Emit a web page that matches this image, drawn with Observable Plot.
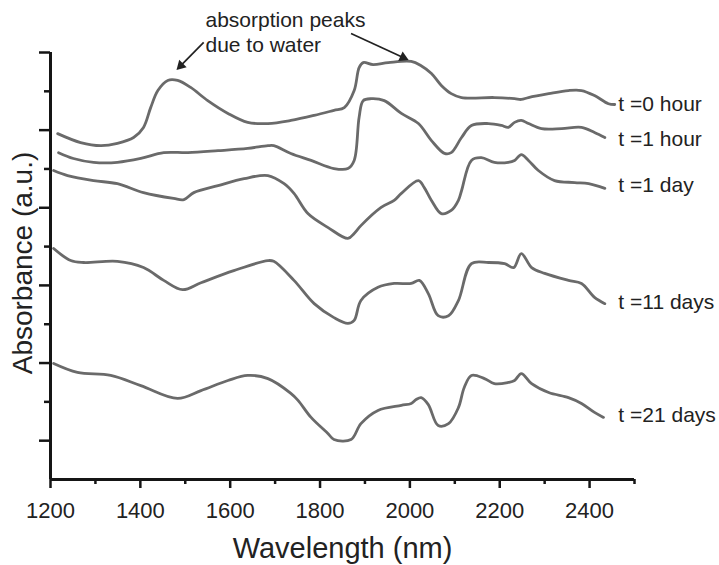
<!DOCTYPE html>
<html>
<head>
<meta charset="utf-8">
<script src="https://cdn.jsdelivr.net/npm/d3@7"></script>
<script src="https://cdn.jsdelivr.net/npm/@observablehq/plot@0.6"></script>
<style>
  html, body { margin: 0; padding: 0; background: #fff; }
  #chart svg { display: block; }
</style>
</head>
<body>
<div id="chart"></div>
<script>
// ---- data ----
const seriesNames = ["t =0 hour", "t =1 hour", "t =1 day", "t =11 days", "t =21 days"];

const wl0 = [1216,1267,1312,1349,1385,1407,1423,1439,1461,1483,1512,1550,1595,1639,1684,1735,1787,1831,1854,1876,1887,1896,1918,1952,2003,2025,2048,2070,2092,2115,2188,2233,2248,2264,2309,2353,2382,2411,2442,2456];
const ab0 = [8.91,8.68,8.60,8.66,8.81,9.07,9.58,10.02,10.28,10.28,10.10,9.76,9.43,9.20,9.17,9.25,9.38,9.51,9.58,10.02,10.61,10.74,10.69,10.74,10.77,10.66,10.46,10.15,9.94,9.84,9.84,9.81,9.79,9.84,9.94,10.02,10.02,9.89,9.68,9.66];

const wl1 = [1218,1251,1296,1349,1401,1452,1506,1573,1639,1684,1697,1735,1780,1831,1862,1876,1887,1896,1914,1943,1981,2019,2048,2077,2092,2115,2137,2175,2204,2219,2233,2248,2264,2293,2338,2382,2411,2434];
const ab1 = [8.42,8.27,8.17,8.17,8.27,8.42,8.42,8.47,8.53,8.60,8.60,8.40,8.22,8.01,8.01,8.22,9.33,9.76,9.81,9.76,9.43,9.17,8.73,8.40,8.42,8.81,9.12,9.17,9.12,9.07,9.20,9.25,9.17,9.04,9.04,9.07,8.94,8.81];

const wl2 = [1207,1238,1296,1349,1407,1474,1497,1519,1573,1631,1684,1720,1742,1773,1818,1862,1876,1891,1936,1965,1981,2019,2032,2048,2070,2092,2108,2115,2137,2159,2188,2219,2233,2248,2264,2286,2322,2367,2398,2434];
const ab2 = [7.96,7.83,7.70,7.62,7.39,7.24,7.21,7.39,7.57,7.75,7.83,7.62,7.37,6.85,6.49,6.21,6.34,6.54,7.01,7.19,7.37,7.70,7.52,7.19,6.85,6.93,7.19,7.44,8.22,8.29,8.17,8.17,8.22,8.37,8.22,7.96,7.70,7.65,7.62,7.50];

const wl3 = [1207,1245,1274,1349,1407,1452,1494,1535,1608,1684,1697,1742,1787,1831,1862,1876,1891,1929,1965,2003,2021,2041,2063,2086,2108,2137,2175,2211,2231,2248,2271,2300,2353,2382,2411,2434];
const ab3 = [5.95,5.64,5.59,5.62,5.46,5.13,4.89,5.07,5.38,5.64,5.62,5.13,4.53,4.17,4.02,4.10,4.61,4.95,5.05,5.05,5.13,4.79,4.22,4.22,4.61,5.56,5.59,5.56,5.46,5.82,5.46,5.31,5.13,5.05,4.69,4.53];

const wl4 = [1207,1260,1334,1401,1483,1535,1595,1639,1684,1735,1751,1780,1818,1831,1869,1891,1929,1981,2003,2014,2025,2041,2063,2086,2108,2121,2137,2166,2188,2219,2233,2248,2271,2309,2353,2382,2411,2431];
const ab4 = [2.99,2.76,2.68,2.42,2.09,2.29,2.55,2.68,2.60,2.22,2.04,1.60,1.18,1.03,1.03,1.44,1.78,1.91,1.96,2.06,2.11,1.93,1.39,1.44,1.85,2.37,2.68,2.60,2.47,2.50,2.55,2.73,2.47,2.24,2.11,1.96,1.73,1.60];

const labelX = [2464, 2464, 2464, 2464, 2464];
const labelY = [9.66, 8.76, 7.57, 4.56, 1.65];

const xMajorTicks = [1200, 1400, 1600, 1800, 2000, 2200, 2400];
const xMinorTicks = [1300, 1500, 1700, 1900, 2100, 2300, 2500];
const yMajorTicks = [1, 3, 5, 7, 9, 11];
const yMinorTicks = [2, 4, 6, 8, 10];

const noteLines = ["absorption peaks", "due to water"];
const noteX = [1545, 1545];
const noteY = [11.83, 11.18];
const arrowX1 = [1541, 1869];
const arrowY1 = [11.26, 11.49];
const arrowX2 = [1490, 1985];
const arrowY2 = [10.66, 10.87];
const arrowHeadAngle = [-135, 115]; // screen-space direction of each head

// ---- build tables ----
const wls = [wl0, wl1, wl2, wl3, wl4];
const abs = [ab0, ab1, ab2, ab3, ab4];
const rows = [];
seriesNames.forEach((name, i) => {
  wls[i].forEach((w, j) => rows.push({series: name, wl: w, a: abs[i][j]}));
});
const labels = seriesNames.map((name, i) => ({name, x: labelX[i], y: labelY[i]}));
const notes = noteLines.map((t, i) => ({t, x: noteX[i], y: noteY[i]}));
const arrows = arrowX1.map((x1, i) => ({x1, y1: arrowY1[i], x2: arrowX2[i], y2: arrowY2[i], rot: arrowHeadAngle[i]}));

const font = "'Liberation Sans', Arial, Helvetica, sans-serif";
const axisColor = "#151515";
const lineColor = "#6a6a6a";

const chart = Plot.plot({
  width: 719,
  height: 565,
  marginLeft: 50,
  marginRight: 85,
  marginTop: 52,
  marginBottom: 86,
  style: {fontFamily: font, background: "#fff", color: "#222"},
  x: {domain: [1200, 2500]},
  y: {domain: [0, 11]},
  marks: [
    Plot.line(rows, {x: "wl", y: "a", z: "series", stroke: lineColor, strokeWidth: 2.8, curve: "catmull-rom"}),
    Plot.axisX(xMinorTicks, {tickSize: 5, tickFormat: () => "", stroke: axisColor, strokeWidth: 2.5, label: null}),
    Plot.axisX(xMajorTicks, {tickSize: 9, tickPadding: 14, fontSize: 22, fill: "#222", stroke: axisColor, strokeWidth: 2.5, label: null, tickFormat: d => String(d)}),
    Plot.axisY(yMinorTicks, {tickSize: 6, tickFormat: () => "", stroke: axisColor, strokeWidth: 2.5, label: null}),
    Plot.axisY(yMajorTicks, {tickSize: 11, tickFormat: () => "", stroke: axisColor, strokeWidth: 2.5, label: null}),
    Plot.ruleY([0], {stroke: axisColor, strokeWidth: 3}),
    Plot.ruleX([1200], {stroke: axisColor, strokeWidth: 3}),
    Plot.text(["Wavelength (nm)"], {frameAnchor: "bottom", dy: 69, lineAnchor: "middle", textAnchor: "middle", fontSize: 29, fill: "#222"}),
    Plot.text(["Absorbance (a.u.)"], {frameAnchor: "left", dx: -27, dy: -3, rotate: -90, textAnchor: "middle", lineAnchor: "middle", fontSize: 28, fill: "#222"}),
    Plot.text(labels, {x: "x", y: "y", text: "name", textAnchor: "start", fontSize: 21, fill: "#222"}),
    Plot.text(notes, {x: "x", y: "y", text: "t", textAnchor: "start", fontSize: 21, fill: "#222"}),
    Plot.link(arrows, {x1: "x1", y1: "y1", x2: "x2", y2: "y2", stroke: "#222", strokeWidth: 1.7}),
    Plot.dot(arrows, {x: "x2", y: "y2", symbol: "triangle2", r: 5, fill: "#222", stroke: "none", rotate: "rot"})
  ]
});
document.getElementById("chart").appendChild(chart);
</script>
</body>
</html>
